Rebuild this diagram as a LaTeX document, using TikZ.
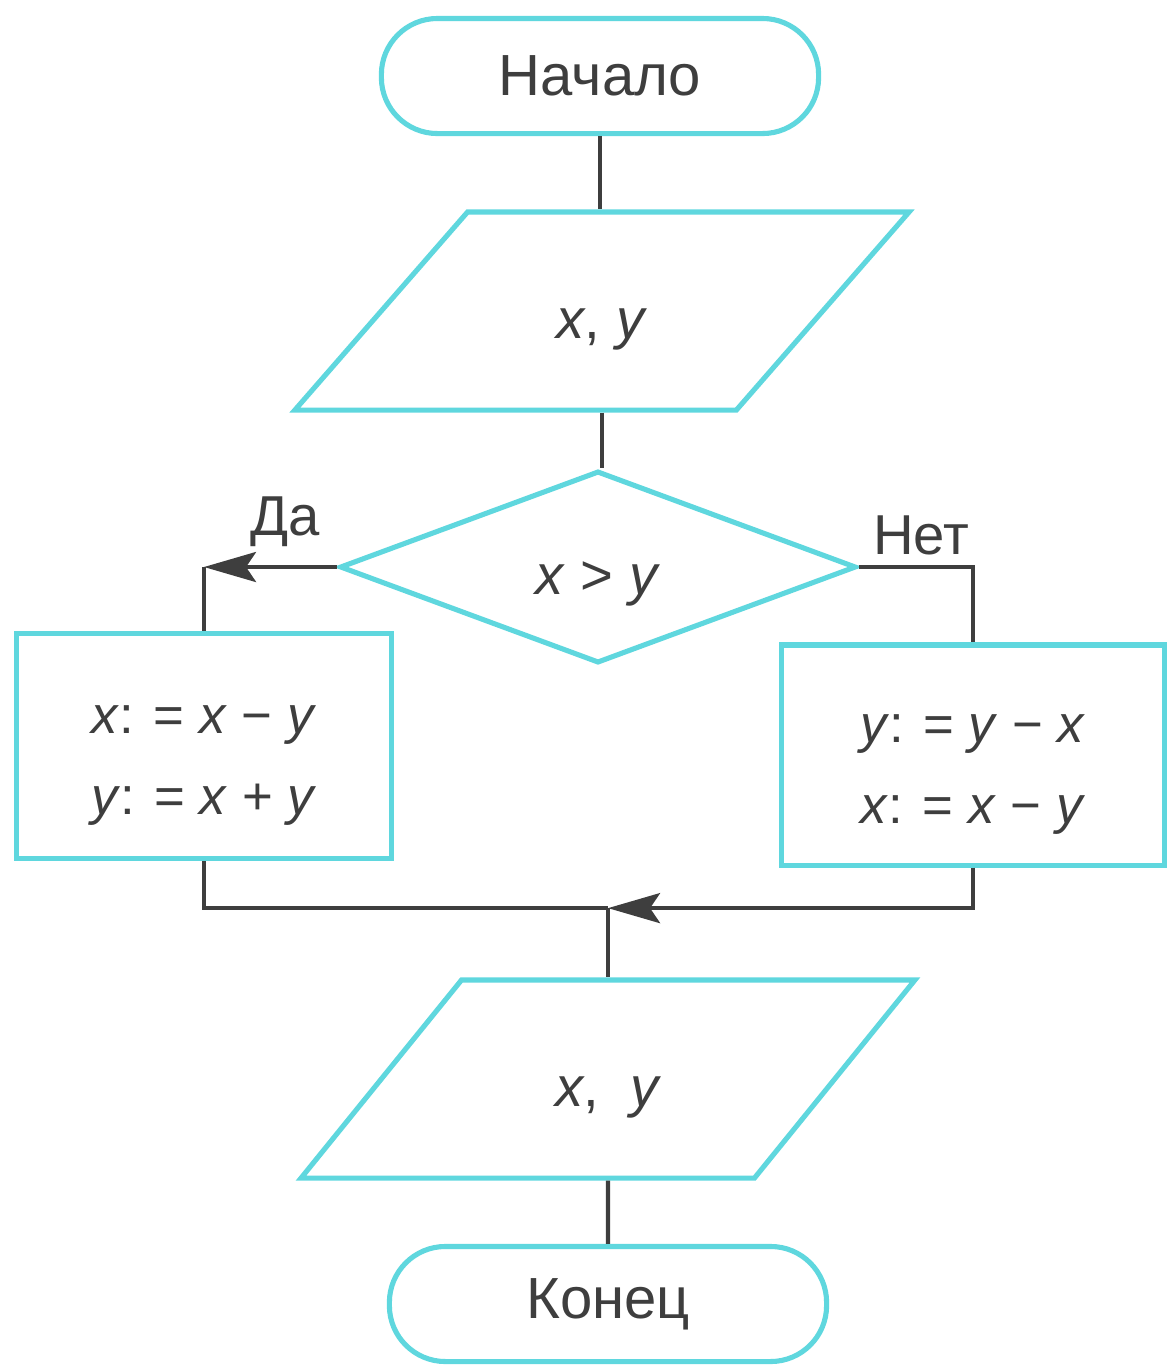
\documentclass[tikz,border=0pt]{standalone}
\usepackage{fontspec}
\setmainfont{Liberation Sans}
\usepackage{tikz}
\usetikzlibrary{shapes.geometric, arrows.meta, positioning, calc}
\definecolor{flowcyan}{RGB}{95,215,222}
\definecolor{ink}{RGB}{62,62,62}
\newcommand{\txtpad}{\rule{0pt}{19pt}}

\begin{document}
\begin{tikzpicture}[
  x=0.01cm, y=-0.01cm,
  box/.style={draw=flowcyan, line width=1.45pt, fill=white, text=ink,
    inner sep=0pt, align=center, font=\fontsize{16}{23}\selectfont},
  term/.style={box, rounded corners=0.56cm, minimum width=4.37cm,
    minimum height=1.15cm, font=\fontsize{16.5}{20}\selectfont},
  io/.style={box, trapezium, trapezium left angle=53.5,
    trapezium right angle=126.5, trapezium stretches=true,
    minimum width=6.15cm, minimum height=1.98cm},
  test/.style={box, diamond, aspect=2.69, minimum width=5.16cm,
    minimum height=1.92cm},
  proc/.style={box, minimum width=3.75cm, minimum height=2.25cm,
    font=\fontsize{15}{23}\selectfont},
  lbl/.style={text=ink, font=\fontsize{16}{19}\selectfont},
  line/.style={draw=ink, line width=1.15pt},
  arr/.style={line, -{Stealth[length=0.52cm, width=0.3cm, inset=0.1cm]}},
]
  \useasboundingbox (0,0) rectangle (1167,1365);

  % -- Main column --
  \node[term] (start) at (600,76) {Начало};
  \node[io] (read) at (602,311) {\txtpad\textit{x}, \textit{y}};
  \node[test] (cmp) at (598,567) {\txtpad\textit{x} > \textit{y}};
  \node[io] (write) at (608,1079) {\txtpad\textit{x}, \ \textit{y}};
  \node[term] (stop) at (608,1304) {Конец};

  % -- Branches --
  \node[proc] (yes) at (204,746)
    {\txtpad\textit{x}: = \textit{x} − \textit{y}\\\textit{y}: = \textit{x} + \textit{y}};
  \node[proc, minimum width=3.83cm, minimum height=2.2cm] (no) at (973,755)
    {\txtpad\textit{y}: = \textit{y} − \textit{x}\\\textit{x}: = \textit{x} − \textit{y}};

  \node[lbl] (da) at (285,522) {Да};
  \node[lbl] (net) at (921,535) {Нет};

  % -- Connectors --
  \draw[line] (start.south) -- (start.south |- read.north);
  \draw[line] (read.south) -- (read.south |- cmp.north);

  \coordinate (yescorner) at (yes.north |- cmp.west);
  \draw[arr] (cmp.west) -- (yescorner);
  \draw[line] (yescorner) -- (yes.north);
  \draw[line] (cmp.east) -| (no.north);

  \coordinate (join) at ($(write.north |- yes.south) + (0,47)$);
  \draw[line] (yes.south) |- (join);
  \draw[arr] (no.south) |- (join);
  \draw[line] (join) -- (write.north);
  \draw[line] (write.south) -- (stop.north);
\end{tikzpicture}
\end{document}
